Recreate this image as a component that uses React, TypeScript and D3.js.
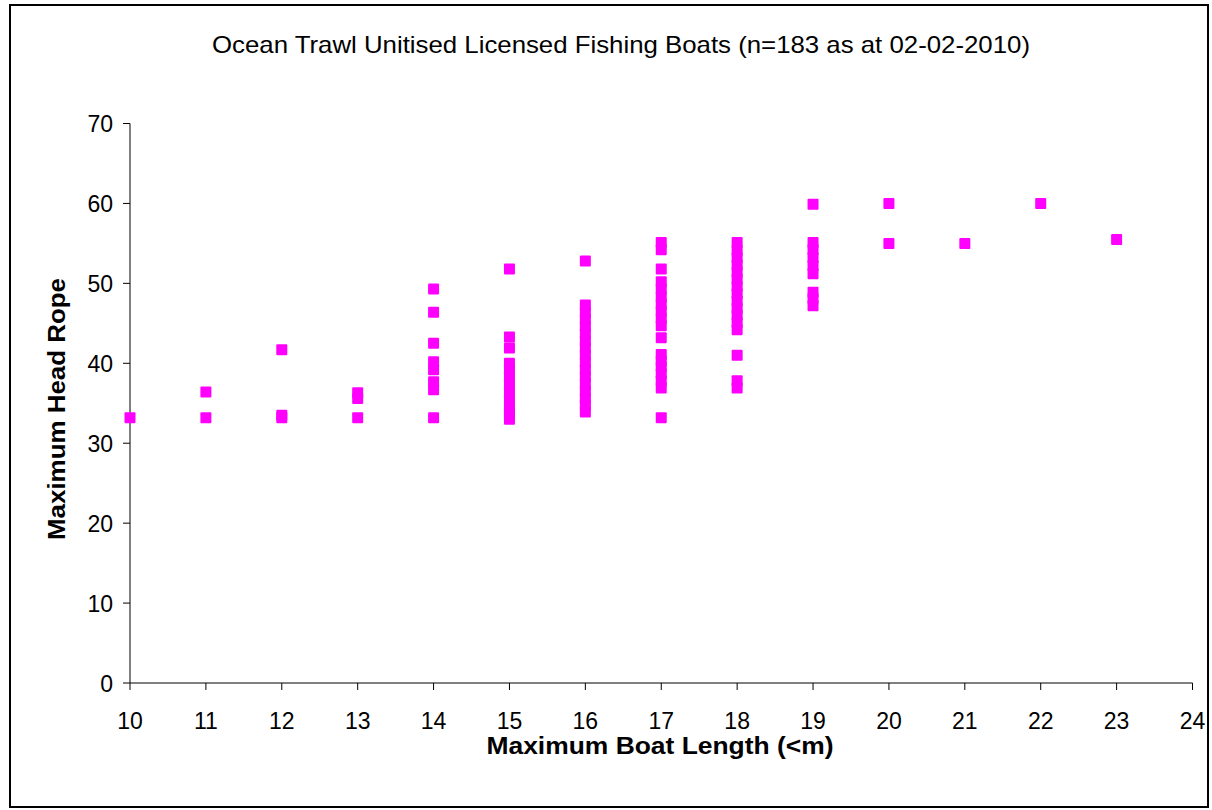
import React from "react";
import * as d3 from "d3";

const boatLengths: number[] = [10, 11, 12, 13, 14, 15, 16, 17, 18, 19, 20, 21, 22, 23];
const headRope: number[][] = [
  [33.2],
  [33.2, 36.4],
  [33.2, 33.5, 41.7],
  [33.2, 35.6, 36.3],
  [33.2, 36.7, 37.7, 39.2, 40.2, 42.5, 46.4, 49.3],
  [33.0, 33.4, 33.9, 34.4, 35.3, 36.3, 37.3, 38.3, 39.2, 40.0, 41.9, 43.3, 51.8],
  [33.9, 34.8, 35.6, 36.5, 37.4, 38.3, 39.2, 40.1, 41.0, 41.9, 42.8, 43.7, 44.6, 45.5, 46.4, 47.3, 52.8],
  [33.2, 36.9, 37.8, 38.7, 39.6, 40.3, 41.1, 43.2, 44.7, 45.6, 46.5, 47.4, 48.3, 49.3, 50.2, 51.8, 54.2, 55.1],
  [36.9, 37.8, 41.0, 44.2, 45.1, 46.0, 46.9, 47.8, 48.7, 49.6, 50.5, 51.4, 52.3, 53.2, 54.1, 55.1],
  [47.2, 48.1, 48.9, 51.2, 52.2, 53.2, 54.2, 55.1, 59.9],
  [55.0, 60.0],
  [55.0],
  [60.0],
  [55.5],
];
const xTicks: number[] = d3.range(10, 25, 1);
const yTicks: number[] = d3.range(0, 71, 10);

const title = "Ocean Trawl Unitised Licensed Fishing Boats (n=183 as at 02-02-2010)";
const xTitle = "Maximum Boat Length (<m)";
const yTitle = "Maximum Head Rope";

export default function App() {
  const W = 1212, H = 810;
  const x = d3.scaleLinear().domain([10, 24]).range([130, 1192.5]);
  const y = d3.scaleLinear().domain([0, 70]).range([683, 123.5]);
  const font = "Liberation Sans, Arial, sans-serif";
  const pts: { bx: number; hr: number }[] = [];
  boatLengths.forEach((b, i) => headRope[i].forEach((v) => pts.push({ bx: b, hr: v })));
  const ms = 11;
  return (
    <svg width={W} height={H} style={{ position: "absolute", left: 0, top: 0, background: "#fff" }} fontFamily={font}>
      <rect x={0} y={0} width={W} height={H} fill="#fff" />
      <rect x={10} y={5} width={1198} height={802} fill="none" stroke="#000" strokeWidth={2} />
      <text x={621} y={53} textAnchor="middle" fontSize={24} textLength={818} lengthAdjust="spacingAndGlyphs">{title}</text>
      {/* axes */}
      <line x1={x(10)} x2={x(24)} y1={y(0)} y2={y(0)} stroke="#000" strokeWidth={1} />
      <line x1={x(10)} x2={x(10)} y1={y(0)} y2={y(70)} stroke="#000" strokeWidth={1} />
      {xTicks.map((t) => (
        <g key={"x" + t}>
          <line x1={x(t)} x2={x(t)} y1={y(0)} y2={y(0) + 7} stroke="#000" />
          <text x={x(t)} y={729} textAnchor="middle" fontSize={23}>{t}</text>
        </g>
      ))}
      {yTicks.map((t) => (
        <g key={"y" + t}>
          <line x1={x(10) - 7} x2={x(10)} y1={y(t)} y2={y(t)} stroke="#000" />
          <text x={113} y={y(t) + 8.5} textAnchor="end" fontSize={23}>{t}</text>
        </g>
      ))}
      {pts.map((p, i) => (
        <rect key={i} x={x(p.bx) - ms / 2} y={y(p.hr) - ms / 2} width={ms} height={ms} rx={1} fill="#FF00FF" />
      ))}
      <text x={660} y={754} textAnchor="middle" fontSize={24} fontWeight="bold" textLength={347} lengthAdjust="spacingAndGlyphs">{xTitle}</text>
      <text transform={`translate(65,409) rotate(-90)`} textAnchor="middle" fontSize={24} fontWeight="bold" textLength={262} lengthAdjust="spacingAndGlyphs">{yTitle}</text>
    </svg>
  );
}
